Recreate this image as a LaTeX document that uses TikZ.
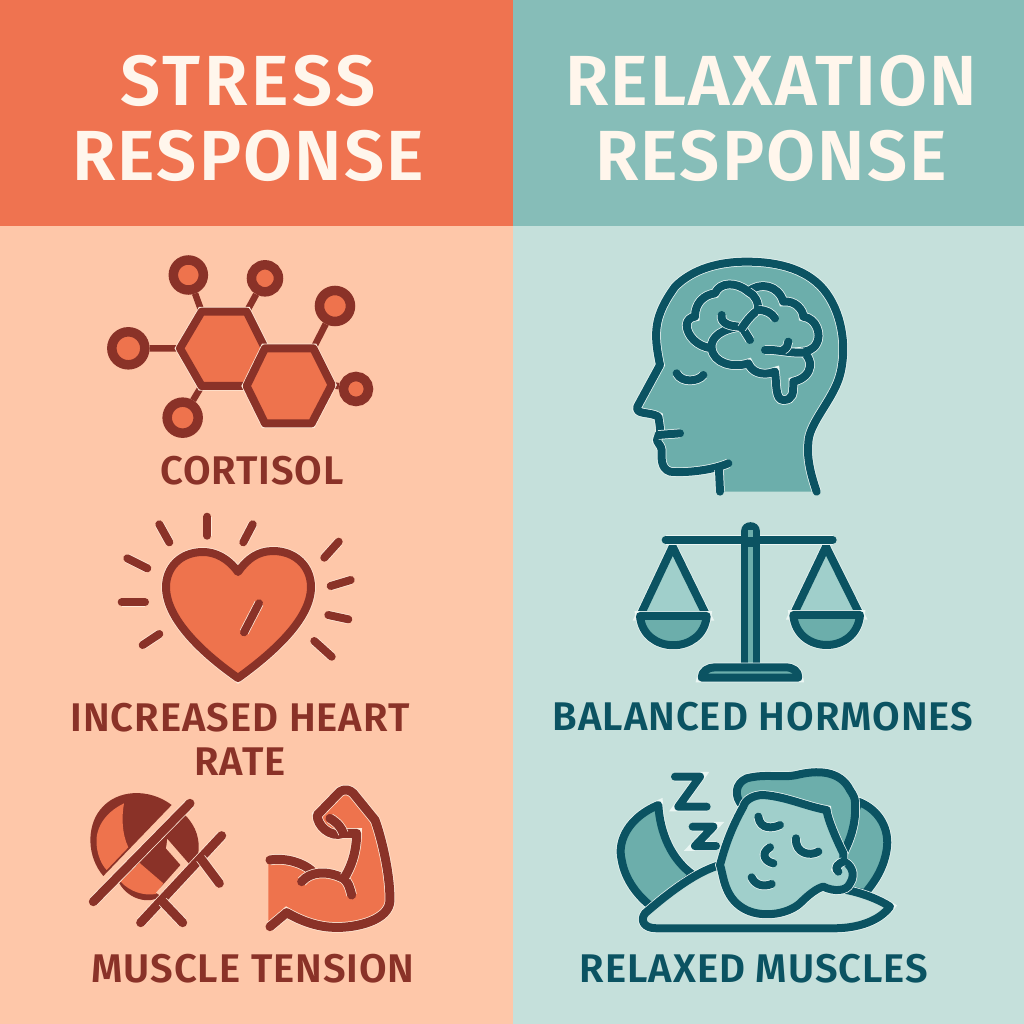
\documentclass[tikz,border=0pt]{standalone}
\usepackage{fontspec}
\setmainfont{Fira Sans}
\newfontfamily\headfont[LetterSpace=3]{Fira Sans SemiBold}
\newfontfamily\stressfont[LetterSpace=5.5]{Fira Sans SemiBold}
\newfontfamily\labelfont[LetterSpace=2.4]{Fira Sans SemiBold}
\usetikzlibrary{positioning}
\definecolor{sHead}{HTML}{EF7350}
\definecolor{sPanel}{HTML}{FEC7A9}
\definecolor{sLine}{HTML}{8A3228}
\definecolor{sFill}{HTML}{EE734D}
\definecolor{sHalo}{HTML}{FFE9D8}
\definecolor{rHead}{HTML}{86BDB8}
\definecolor{rPanel}{HTML}{C5E0DB}
\definecolor{rLine}{HTML}{0B5362}
\definecolor{rFill}{HTML}{6CAEAB}
\definecolor{rSoft}{HTML}{A0CFCB}
\definecolor{rHalo}{HTML}{EAF6F3}
\definecolor{cream}{HTML}{FFF6EC}
\tikzset{
  block/.style={minimum width=#1,inner sep=0pt,outer sep=0pt,draw=none},
  headtxt/.style={font=\headfont\fontsize{71}{75}\selectfont,text=cream,align=center,inner sep=0pt},
  stxt/.style={font=\labelfont\fontsize{40}{44}\selectfont,text=sLine,align=center,inner sep=0pt},
  rtxt/.style={font=\labelfont\fontsize{40}{44}\selectfont,text=rLine,align=center,inner sep=0pt},
  zoomed/.style={x=.3333pt,y=-.3333pt},
  sicon/.style={draw=sLine,line width=8pt,line cap=round,line join=round,preaction={draw=sHalo,line width=9.5pt}},
  ricon/.style={draw=rLine,line width=8pt,line cap=round,line join=round,preaction={draw=rHalo,line width=9.5pt}},
  sheavy/.style={draw=sLine,line width=9pt,line cap=round,line join=round,preaction={draw=sHalo,line width=10.5pt}},
  atom/.style={circle,draw=sLine,fill=sFill,line width=9.5pt,inner sep=0pt,minimum size=#1},
}
\begin{document}
\begin{tikzpicture}[x=1pt,y=-1pt]
  \useasboundingbox (0,0) rectangle (1024,1024);

  \node[block=513pt,minimum height=226pt,fill=sHead,anchor=north west] (stressHead) at (0,0) {};
  \node[block=511pt,minimum height=226pt,fill=rHead,right=0pt of stressHead] (relaxHead) {};
  \node[block=513pt,minimum height=798pt,fill=sPanel,below=0pt of stressHead] (stressPanel) {};
  \node[block=511pt,minimum height=798pt,fill=rPanel,below=0pt of relaxHead] (relaxPanel) {};

  \node[headtxt] (stressTitle) at (248,118) {{\stressfont\fontsize{71}{75}\selectfont STRESS}\\RESPONSE};
  \node[headtxt] (relaxTitle) at (771,118) {RELAXATION\\RESPONSE};

  \node[stxt] (cortisol) at (252,471) {CORTISOL};
  \node[stxt] (heartrate) at (240,739) {INCREASED HEART\\RATE};
  \node[stxt] (tension) at (253,969) {MUSCLE TENSION};
  \node[rtxt] (balanced) at (763,717) {BALANCED HORMONES};
  \node[rtxt] (relaxed) at (754,969) {RELAXED MUSCLES};

  % cortisol
  \begin{scope}[xshift=100pt,yshift=-250pt,zoomed]
    \coordinate (a1) at (305,185);
    \coordinate (a2) at (440,185);
    \coordinate (a3) at (495,295);
    \coordinate (a4) at (440,408);
    \coordinate (a5) at (305,408);
    \coordinate (a6) at (240,295);
    \coordinate (b1) at (640,295);
    \coordinate (b2) at (695,405);
    \coordinate (b3) at (635,520);
    \coordinate (b4) at (495,520);
    \node[atom=30pt] (m1) at (265,75) {};
    \node[atom=27pt] (m2) at (495,85) {};
    \node[atom=31pt] (m3) at (705,168) {};
    \node[atom=33pt] (m4) at (85,295) {};
    \node[atom=25pt] (m5) at (768,417) {};
    \node[atom=31pt] (m6) at (248,503) {};
    \draw[sLine,line width=6.5pt] (a1) -- (m1) (a2) -- (m2) (b1) -- (m3) (a6) -- (m4) (b2) -- (m5) (a5) -- (m6);
    \draw[sicon,fill=sFill] (a1) -- (a2) -- (a3) -- (a4) -- (a5) -- (a6) -- cycle;
    \draw[sicon,fill=sFill] (a3) -- (b1) -- (b2) -- (b3) -- (b4) -- (a4) -- cycle;
  \end{scope}

  % heart
  \draw[sicon,fill=sFill] (238,572) .. controls (228,558) and (215,552) .. (203,552)
    .. controls (180,552) and (166,568) .. (166,587)
    .. controls (166,620) and (205,655) .. (238,678)
    .. controls (270,655) and (311,620) .. (311,587)
    .. controls (311,566) and (295,551) .. (273,551)
    .. controls (258,551) and (247,559) .. (238,572) -- cycle;
  \foreach \xa/\ya/\xb/\yb in {159.3/524.3/169.3/542.3,207.3/516.7/207.3/535.7,252.7/524.3/243.3/542.3,
      338.7/541.7/324.3/557.7,350.7/580/330.7/586,328.3/615/348.3/619.3,314.3/641/331.7/656.7,
      159.3/634/142.7/645,145/602.3/121.7/602.3,147.3/568.3/127.3/558.3,259/603.3/244/632.3}
    \draw[sicon] (\xa,\ya) -- (\xb,\yb);

  % crossed muscle
  \begin{scope}[xshift=80pt,yshift=-770pt,zoomed]
    \fill[sLine] (275,105) .. controls (210,55) and (110,55) .. (60,120)
      .. controls (20,170) and (20,260) .. (70,318) -- cycle;
    \fill[sFill] (132,100) .. controls (70,130) and (45,180) .. (50,225)
      .. controls (52,255) and (65,285) .. (80,300) -- (145,232)
      .. controls (125,190) and (125,140) .. (132,100) -- cycle;
    \fill[sLine] (315,135) .. controls (350,170) and (360,210) .. (355,250) -- (240,380)
      .. controls (215,400) and (150,395) .. (118,340) -- cycle;
    \fill[sFill] (178,278) -- (250,340) -- (228,372) .. controls (190,378) and (150,365) .. (122,335) -- cycle;
    \fill[sPanel] (262,207) -- (330,285) -- (238,375) -- (228,368) -- (302,285) -- (258,235) -- cycle;
    \draw[sheavy] (40,395) -- (330,100);
    \draw[sheavy] (182,458) -- (425,197);
    \draw[sheavy] (248,395) -- (308,458);
    \draw[sheavy] (362,265) -- (418,340);
  \end{scope}

  % biceps
  \begin{scope}[xshift=80pt,yshift=-770pt,zoomed]
    \fill[sFill] (565,270) .. controls (620,262) and (670,280) .. (695,302) -- (795,320)
      .. controls (825,270) and (830,220) .. (830,190) -- (770,190)
      .. controls (745,195) and (710,165) .. (712,135) -- (780,65) .. controls (795,55) and (810,60) .. (820,70)
      -- (885,150) .. controls (900,190) and (930,300) .. (930,390)
      .. controls (930,450) and (830,475) .. (760,472)
      .. controls (700,470) and (650,445) .. (620,428) -- (565,470) -- cycle;
    \draw[sheavy] (570,270) .. controls (620,262) and (670,280) .. (695,302);
    \draw[sheavy] (665,335) .. controls (690,305) and (740,300) .. (790,325) .. controls (805,335) and (810,355) .. (815,375);
    \draw[sheavy] (795,320) .. controls (825,270) and (830,220) .. (830,190) -- (790,190)
      .. controls (750,205) and (710,165) .. (712,135) -- (780,65) .. controls (795,55) and (810,60) .. (820,70)
      -- (885,150) .. controls (900,190) and (930,300) .. (930,390)
      .. controls (930,450) and (830,475) .. (760,472)
      .. controls (700,470) and (650,445) .. (620,428) -- (570,470);
    \draw[sheavy] (750,145) .. controls (775,160) and (785,175) .. (790,190);
  \end{scope}

  % head with brain
  \begin{scope}[xshift=620pt,yshift=-260pt,zoomed]
    \fill[rFill] (300,695) -- (300,630) -- (150,635)
      .. controls (120,625) and (125,590) .. (125,570) .. controls (125,555) and (105,545) .. (112,535)
      .. controls (125,530) and (120,500) .. (115,470) .. controls (90,455) and (45,465) .. (52,440) -- (120,315)
      .. controls (100,220) and (100,170) .. (165,80) .. controls (220,25) and (300,5) .. (380,5)
      .. controls (480,5) and (570,30) .. (620,100) .. controls (670,170) and (680,270) .. (660,345)
      .. controls (640,420) and (565,490) .. (565,550) .. controls (560,600) and (575,650) .. (590,695) -- cycle;
    \draw[ricon] (325,610) .. controls (280,630) and (200,640) .. (150,635)
      .. controls (120,625) and (125,590) .. (125,570) .. controls (125,555) and (105,545) .. (112,535)
      .. controls (125,530) and (120,500) .. (115,470) .. controls (90,455) and (45,465) .. (52,440) -- (120,315)
      .. controls (100,220) and (100,170) .. (165,80) .. controls (220,25) and (300,5) .. (380,5)
      .. controls (480,5) and (570,30) .. (620,100) .. controls (670,170) and (680,270) .. (660,345)
      .. controls (640,420) and (565,490) .. (565,550) .. controls (560,600) and (575,650) .. (590,695);
    \draw[ricon] (297,630) -- (300,695);
    \draw[ricon] (115,525) -- (180,520);
    \draw[ricon] (170,340) .. controls (185,370) and (235,365) .. (250,345);
    % brain
    \draw[ricon] (275,265) .. controls (230,260) and (200,225) .. (200,195)
      .. controls (200,180) and (215,170) .. (225,170)
      .. controls (225,130) and (250,105) .. (285,100)
      .. controls (300,65) and (350,65) .. (385,95)
      .. controls (420,65) and (475,75) .. (490,125)
      .. controls (525,120) and (550,150) .. (550,170)
      .. controls (590,175) and (605,225) .. (590,250)
      .. controls (580,270) and (560,275) .. (545,275)
      .. controls (580,290) and (585,350) .. (520,365)
      .. controls (520,400) and (520,420) .. (490,420)
      .. controls (465,420) and (470,370) .. (465,335)
      .. controls (425,350) and (395,335) .. (385,310)
      .. controls (340,325) and (280,310) .. (275,265)
      .. controls (270,230) and (310,205) .. (365,200);
    \draw[ricon] (305,165) .. controls (300,190) and (330,200) .. (365,200) -- (390,240);
    \draw[ricon] (365,205) .. controls (385,175) and (400,160) .. (415,150) .. controls (415,125) and (405,105) .. (385,95);
    \draw[ricon] (415,150) .. controls (440,150) and (455,160) .. (465,175);
    \draw[ricon] (435,270) .. controls (470,268) and (510,280) .. (550,278);
    \draw[ricon] (490,270) .. controls (500,265) and (505,255) .. (505,245);
  \end{scope}

  % balance
  \begin{scope}[xshift=625pt,yshift=-515pt,zoomed]
    \draw[ricon,fill=rSoft] (143,95) -- (45,303) -- (245,303) -- cycle;
    \draw[ricon,fill=rFill] (45,303) .. controls (55,420) and (235,420) .. (245,303) -- cycle;
    \draw[ricon,fill=rSoft] (603,95) -- (505,300) -- (705,300) -- cycle;
    \draw[ricon,fill=rFill] (505,300) .. controls (515,420) and (695,420) .. (705,300) -- cycle;
    \draw[ricon] (122,75) -- (623,75);
    \fill[rLine] (348,450) -- (348,50) .. controls (348,12) and (405,12) .. (405,50) -- (405,450) -- cycle;
    \fill[rFill] (368,95) rectangle (385,445);
    \fill[rFill] (368,45) rectangle (385,66);
    \draw[ricon,fill=rFill] (230,488) .. controls (230,468) and (250,457) .. (270,457) -- (480,457) .. controls (505,457) and (520,468) .. (520,488) -- cycle;
  \end{scope}

  % sleeper
  \begin{scope}[xshift=600pt,yshift=-760pt,zoomed]
    \draw[ricon,fill=rFill] (175,135) .. controls (90,170) and (50,240) .. (65,300)
      .. controls (75,360) and (115,410) .. (155,440) -- (280,345)
      .. controls (215,300) and (180,220) .. (175,135) -- cycle;
    \draw[ricon,fill=rFill] (775,125) .. controls (840,150) and (870,210) .. (860,270)
      .. controls (850,330) and (820,370) .. (795,400) -- (750,390) -- (730,280) -- cycle;
    \draw[ricon,fill=rPanel] (360,315) .. controls (290,335) and (210,395) .. (135,460)
      .. controls (120,480) and (130,505) .. (170,505) -- (700,505)
      .. controls (780,505) and (840,480) .. (870,440)
      .. controls (840,420) and (790,400) .. (740,390) -- cycle;
    \draw[ricon,fill=rFill] (430,140) .. controls (400,110) and (405,70) .. (440,55)
      .. controls (500,40) and (540,55) .. (590,45)
      .. controls (650,30) and (720,30) .. (750,90)
      .. controls (760,105) and (765,115) .. (765,125)
      .. controls (770,190) and (750,240) .. (730,280) -- cycle;
    \draw[ricon,fill=rSoft] (430,140) .. controls (385,220) and (370,280) .. (360,315)
      .. controls (370,340) and (370,410) .. (430,445)
      .. controls (480,475) and (560,465) .. (600,430)
      .. controls (625,405) and (650,385) .. (670,380)
      .. controls (700,395) and (740,395) .. (750,370)
      .. controls (770,340) and (750,310) .. (730,305)
      -- (730,280) .. controls (700,220) and (680,165) .. (680,150)
      .. controls (620,140) and (560,110) .. (490,105)
      .. controls (460,105) and (435,120) .. (430,140) -- cycle;
    \draw[ricon] (730,305) .. controls (715,310) and (700,325) .. (715,335);
    \draw[ricon] (475,170) .. controls (480,210) and (520,205) .. (540,195);
    \draw[ricon] (588,235) .. controls (585,280) and (630,290) .. (655,275);
    \draw[ricon] (510,262) .. controls (480,280) and (495,305) .. (520,310);
    \draw[ricon] (455,352) .. controls (465,375) and (490,382) .. (515,372);
    \draw[ricon] (225,50) -- (300,50) -- (235,140) -- (320,140);
    \draw[ricon] (278,200) -- (340,200) -- (285,258) -- (348,258);
  \end{scope}
\end{tikzpicture}
\end{document}
